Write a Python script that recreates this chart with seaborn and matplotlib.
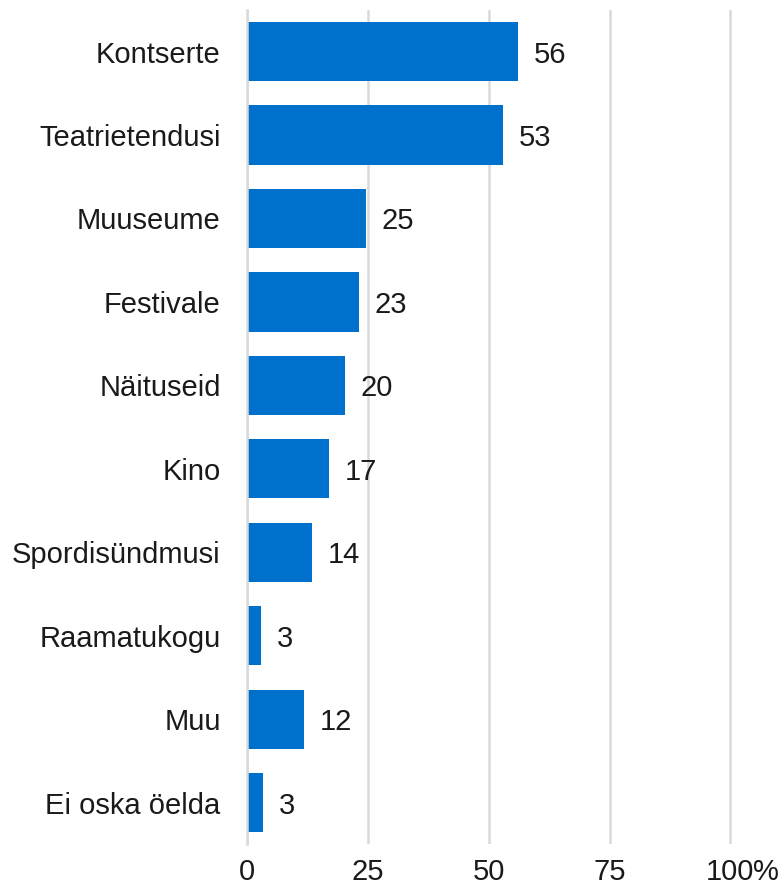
import numpy as np
import pandas as pd
import seaborn as sns
import matplotlib.pyplot as plt

# andmed
categories = ['Kontserte', 'Teatrietendusi', 'Muuseume', 'Festivale', 'Näituseid',
              'Kino', 'Spordisündmusi', 'Raamatukogu', 'Muu', 'Ei oska öelda']
values = [56.0, 53.0, 24.6, 23.1, 20.2, 17.0, 13.4, 2.8, 11.8, 3.2]
labels = ['56', '53', '25', '23', '20', '17', '14', '3', '12', '3']
xticks = [0, 25, 50, 75, 100]

df = pd.DataFrame({'kategooria': categories, 'osakaal': values})

sns.set_style('white')
plt.rcParams['font.family'] = ['Liberation Sans', 'DejaVu Sans']

bar_color = '#0070CD'
grid_color = '#D9D9D9'
text_color = '#1A1A1A'

fig = plt.figure(figsize=(7.82, 8.88), dpi=100)
ax = fig.add_axes([0.316, 0.049, 0.621, 0.94])

sns.barplot(data=df, x='osakaal', y='kategooria', orient='h', color=bar_color,
            width=0.71, saturation=1, edgecolor='none', ax=ax)

# veidi ruumi, et 100 abijoon ei jääks poolikuks
ax.set_xlim(0, 100.5)
ax.set_ylim(len(categories) - 0.5, -0.5)
ax.set_xticks(xticks)
ax.set_xticklabels([str(t) for t in xticks])
ax.set_xlabel('')
ax.set_ylabel('')

# vertikaalsed abijooned
ax.grid(axis='x', color=grid_color, linewidth=1.8)
ax.set_axisbelow(True)
for s in ['top', 'right', 'bottom']:
    ax.spines[s].set_visible(False)
ax.spines['left'].set_color(grid_color)
ax.spines['left'].set_linewidth(1.8)

ax.tick_params(axis='y', length=0, pad=19, labelsize=21, labelcolor=text_color)
ax.tick_params(axis='x', length=0, pad=10, labelsize=21, labelcolor=text_color)

# "%" märk 100 järel
ax.annotate('%', xy=(100, 0), xycoords=('data', 'axes fraction'),
            xytext=(16.5, -10), textcoords='offset points',
            ha='left', va='top', fontsize=21, color=text_color)

# väärtused tulpade kõrval
for i, (v, lab) in enumerate(zip(values, labels)):
    ax.annotate(lab, xy=(v, i), xytext=(11.5, 0), textcoords='offset points',
                ha='left', va='center_baseline', fontsize=21, color=text_color)

plt.savefig('out.png', dpi=100)
